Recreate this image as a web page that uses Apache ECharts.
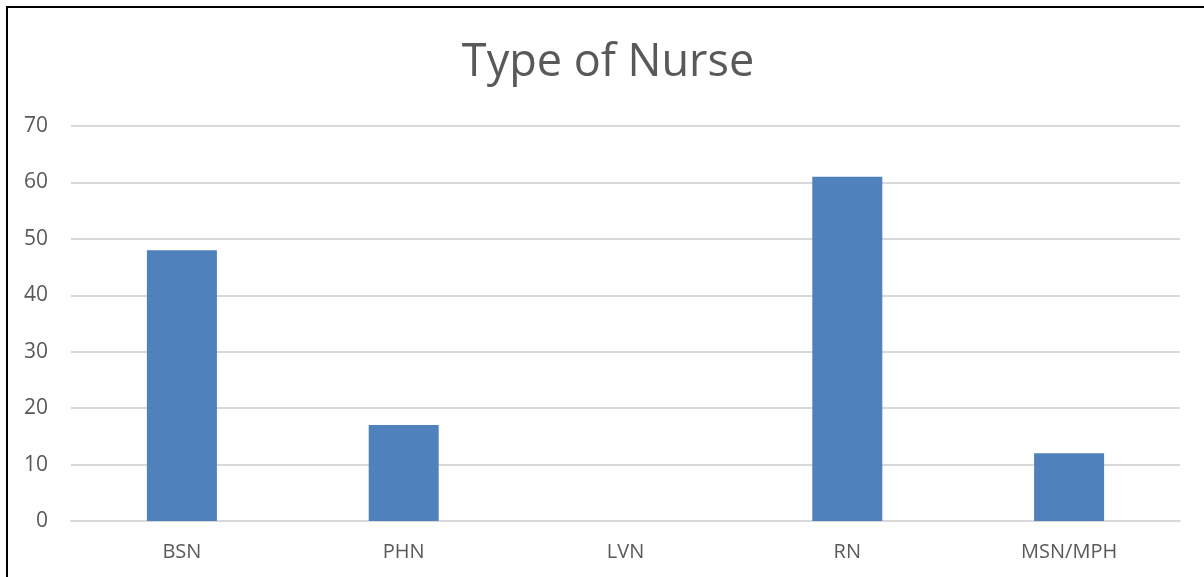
<!DOCTYPE html>
<html>
<head>
<meta charset="utf-8">
<script src="https://cdn.jsdelivr.net/npm/echarts@6/dist/echarts.min.js"></script>
<style>
  html, body { margin: 0; padding: 0; background: #fff; }
  #wrap { position: relative; width: 1204px; height: 577px; overflow: hidden; }
  #frame { position: absolute; left: 6px; top: 6px; width: 1300px; height: 700px;
           border-left: 2px solid #000; border-top: 2px solid #000; box-sizing: border-box; }
  #chart { position: absolute; left: 0; top: 0; width: 1204px; height: 577px; }
</style>
</head>
<body>
<div id="wrap">
  <div id="frame"></div>
  <div id="chart"></div>
</div>
<script>
const categories = ["BSN", "PHN", "LVN", "RN", "MSN/MPH"];
const nurseCounts = [48, 17, 0, 61, 12];
const yTicks = { min: 0, max: 70, interval: 10 };

const chart = echarts.init(document.getElementById("chart"), null, { renderer: "canvas" });
const font = "'Open Sans', 'Liberation Sans', sans-serif";

chart.setOption({
  animation: false,
  backgroundColor: "transparent",
  title: {
    text: "Type of Nurse",
    left: 603,
    top: 36,
    textAlign: "center",
    textStyle: { fontFamily: font, fontSize: 45, fontWeight: "normal", color: "#595959" }
  },
  grid: { left: 71, right: 24, top: 126, bottom: 56, containLabel: false },
  xAxis: {
    type: "category",
    data: categories,
    axisLine: { show: true, lineStyle: { color: "#d9d9d9", width: 2 } },
    axisTick: { show: false },
    axisLabel: { color: "#595959", fontFamily: font, fontSize: 20, margin: 21 }
  },
  yAxis: {
    type: "value",
    min: yTicks.min,
    max: yTicks.max,
    interval: yTicks.interval,
    axisLine: { show: false },
    axisTick: { show: false },
    axisLabel: { color: "#595959", fontFamily: font, fontSize: 21, margin: 23 },
    splitLine: { lineStyle: { color: "#d9d9d9", width: 2 } }
  },
  series: [
    {
      name: "Type of Nurse",
      type: "bar",
      data: nurseCounts,
      barWidth: 70,
      itemStyle: { color: "#4f81bd" }
    }
  ]
});
</script>
</body>
</html>
